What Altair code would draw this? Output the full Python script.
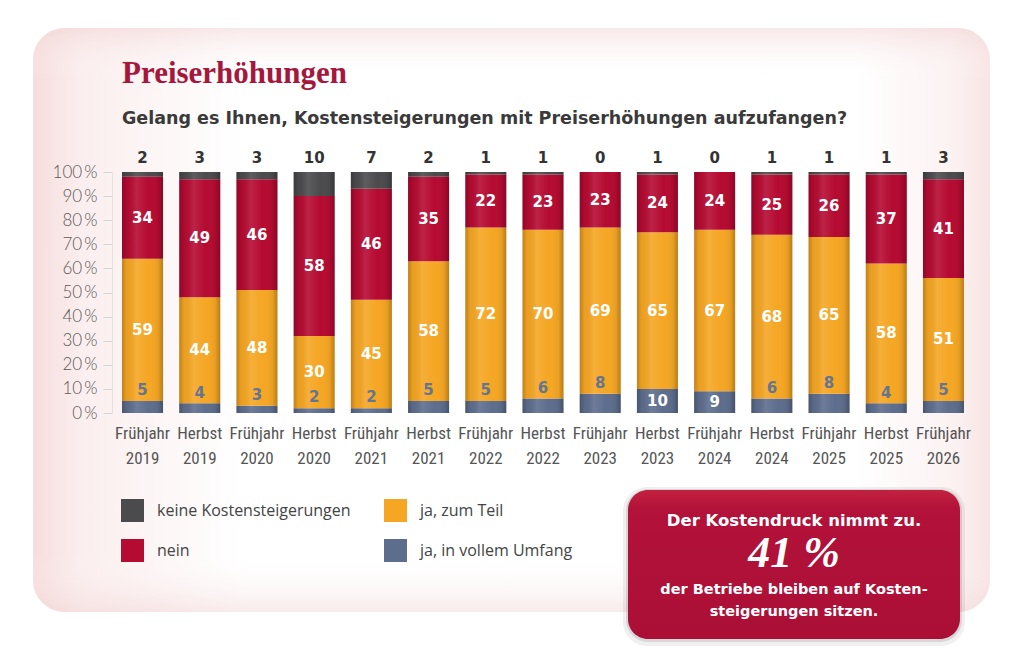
import altair as alt
import pandas as pd

# ---------------- data ----------------
periods = ["Frühjahr 2019", "Herbst 2019", "Frühjahr 2020", "Herbst 2020", "Frühjahr 2021",
           "Herbst 2021", "Frühjahr 2022", "Herbst 2022", "Frühjahr 2023", "Herbst 2023",
           "Frühjahr 2024", "Herbst 2024", "Frühjahr 2025", "Herbst 2025", "Frühjahr 2026"]
keine = [2, 3, 3, 10, 7, 2, 1, 1, 0, 1, 0, 1, 1, 1, 3]
nein = [34, 49, 46, 58, 46, 35, 22, 23, 23, 24, 24, 25, 26, 37, 41]
teil = [59, 44, 48, 30, 45, 58, 72, 70, 69, 65, 67, 68, 65, 58, 51]
voll = [5, 4, 3, 2, 2, 5, 5, 6, 8, 10, 9, 6, 8, 4, 5]

cat_keine = "keine Kostensteigerungen"
cat_teil = "ja, zum Teil"
cat_nein = "nein"
cat_voll = "ja, in vollem Umfang"
legend_order = [cat_keine, cat_nein, cat_teil, cat_voll]
legend_colors = ["#4b4b4d", "#b50a31", "#f5a623", "#5d6d8d"]
stack_order = [(cat_voll, voll), (cat_teil, teil), (cat_nein, nein), (cat_keine, keine)]

# ---------------- tables ----------------
seg_rows = []
for i, p in enumerate(periods):
    base = 0
    for cat, vals in stack_order:
        v = vals[i]
        seg_rows.append({"period": p, "cat": cat, "y0": base, "y1": base + v, "v": v})
        base += v
seg = pd.DataFrame(seg_rows)
seg["mid"] = (seg["y0"] + seg["y1"]) / 2

tot = seg.groupby("period", as_index=False)["y1"].max()

lab_nein = seg[seg["cat"] == cat_nein].copy()
lab_teil = seg[seg["cat"] == cat_teil].copy()
lab_voll = seg[seg["cat"] == cat_voll].copy()
lab_voll["ly"] = [m if v >= 9 else v + 4.5 for m, v in zip(lab_voll["mid"], lab_voll["v"])]
lab_voll_in = lab_voll[lab_voll["v"] >= 9]
lab_voll_out = lab_voll[lab_voll["v"] < 9]
lab_keine = seg[seg["cat"] == cat_keine].copy()
lab_keine["top"] = 100

one = pd.DataFrame({"a": [0]})

# ---------------- encodings ----------------
BOLD = "DejaVu Sans"
x_enc = alt.X(
    "period:N", sort=periods,
    scale=alt.Scale(paddingInner=0.283, paddingOuter=0.175),
    axis=alt.Axis(title=None, labelAngle=0, domain=False, ticks=False, zindex=5,
                  labelExpr="split(datum.label, ' ')", labelLineHeight=25,
                  labelPadding=12, labelFont="Liberation Sans Narrow, Roboto Condensed, DejaVu Sans Condensed, sans-serif",
                  labelFontSize=17, labelColor="#555555", labelOverlap=False),
)
y_scale = alt.Scale(domain=[0, 100], nice=False)
y_axis = alt.Axis(title=None, values=list(range(0, 101, 10)), labelExpr="datum.value + '\u2009%'",
                  grid=False, domainColor="#e2e2e2", tickColor="#d6d6d6", tickSize=9, zindex=5,
                  labelPadding=6, labelFont="Lato", labelFontWeight=300, labelFontSize=17,
                  labelColor="#5a5a5a")


def yq(field):
    return alt.Y(f"{field}:Q", scale=y_scale, axis=y_axis)


# ---------------- decorative panel ----------------
panel_grad = alt.LinearGradient(
    gradient="linear", x1=0, y1=0, x2=1, y2=0,
    stops=[alt.GradientStop(color="#f6dddd", offset=0),
           alt.GradientStop(color="#fbeeee", offset=0.05),
           alt.GradientStop(color="#ffffff", offset=0.22),
           alt.GradientStop(color="#ffffff", offset=0.86),
           alt.GradientStop(color="#fcf2f2", offset=0.96),
           alt.GradientStop(color="#f8e4e4", offset=1)])
panel_vgrad = alt.LinearGradient(
    gradient="linear", x1=0, y1=0, x2=0, y2=1,
    stops=[alt.GradientStop(color="rgba(240,205,205,0.45)", offset=0),
           alt.GradientStop(color="rgba(255,255,255,0)", offset=0.09),
           alt.GradientStop(color="rgba(255,255,255,0)", offset=0.9),
           alt.GradientStop(color="rgba(240,205,205,0.4)", offset=1)])

panel = alt.Chart(one).mark_rect(fill=panel_grad, cornerRadius=32).encode(
    x=alt.value(-79), x2=alt.value(878), y=alt.value(-144), y2=alt.value(440))
panel2 = alt.Chart(one).mark_rect(fill=panel_vgrad, cornerRadius=32).encode(
    x=alt.value(-79), x2=alt.value(878), y=alt.value(-144), y2=alt.value(440))

# ---------------- bars ----------------
bars = alt.Chart(seg).mark_bar().encode(
    x=x_enc,
    y=yq("y1"), y2="y0",
    color=alt.Color("cat:N", scale=alt.Scale(domain=legend_order, range=legend_colors),
                    legend=alt.Legend(title=None, orient="none", legendX=9, legendY=327,
                                      columns=2, symbolType="square", symbolSize=529,
                                      symbolStrokeWidth=0, symbolOpacity=1,
                                      labelFont="Open Sans", labelFontSize=16,
                                      labelColor="#444444", labelOffset=13, labelLimit=300,
                                      rowPadding=17, columnPadding=33, padding=0, zindex=5)),
)

shade_grad = alt.LinearGradient(
    gradient="linear", x1=0, y1=0, x2=1, y2=0,
    stops=[alt.GradientStop(color="rgba(0,0,0,0.22)", offset=0),
           alt.GradientStop(color="rgba(0,0,0,0.04)", offset=0.12),
           alt.GradientStop(color="rgba(255,255,255,0.10)", offset=0.35),
           alt.GradientStop(color="rgba(255,255,255,0.0)", offset=0.65),
           alt.GradientStop(color="rgba(0,0,0,0.05)", offset=0.88),
           alt.GradientStop(color="rgba(0,0,0,0.25)", offset=1)])
shade = alt.Chart(tot).mark_bar(fill=shade_grad).encode(
    x=x_enc, y=yq("y1"), y2=alt.datum(0))

# ---------------- labels ----------------
lbl_kw = dict(font=BOLD, fontWeight="bold", fontSize=15, baseline="middle", align="center")
t_nein = alt.Chart(lab_nein).mark_text(color="#ffffff", **lbl_kw).encode(
    x=x_enc, y=yq("mid"), text="v:Q")
t_teil = alt.Chart(lab_teil).mark_text(color="#ffffff", **lbl_kw).encode(
    x=x_enc, y=yq("mid"), text="v:Q")
t_voll_in = alt.Chart(lab_voll_in).mark_text(color="#ffffff", **lbl_kw).encode(
    x=x_enc, y=yq("ly"), text="v:Q")
t_voll_out = alt.Chart(lab_voll_out).mark_text(color="#66758f", **lbl_kw).encode(
    x=x_enc, y=yq("ly"), text="v:Q")
t_keine = alt.Chart(lab_keine).mark_text(color="#333333", dy=-14, **lbl_kw).encode(
    x=x_enc, y=yq("top"), text="v:Q")

# ---------------- callout ----------------
cx0, cx1, cy0, cy1 = 516, 848, 318, 467
shadow1 = alt.Chart(one).mark_rect(fill="#000000", opacity=0.06, cornerRadius=24).encode(
    x=alt.value(cx0 - 5), x2=alt.value(cx1 + 5), y=alt.value(cy0 - 3), y2=alt.value(cy1 + 7))
shadow2 = alt.Chart(one).mark_rect(fill="#000000", opacity=0.10, cornerRadius=22).encode(
    x=alt.value(cx0 - 2), x2=alt.value(cx1 + 2), y=alt.value(cy0 - 1), y2=alt.value(cy1 + 3))
box_grad = alt.LinearGradient(
    gradient="linear", x1=0, y1=0, x2=0, y2=1,
    stops=[alt.GradientStop(color="#c2223f", offset=0),
           alt.GradientStop(color="#b3123a", offset=0.12),
           alt.GradientStop(color="#ab0f36", offset=1)])
box = alt.Chart(one).mark_rect(fill=box_grad, cornerRadius=20).encode(
    x=alt.value(cx0), x2=alt.value(cx1), y=alt.value(cy0), y2=alt.value(cy1))

ccx = (cx0 + cx1) / 2


def ctext(txt, y, **kw):
    return alt.Chart(one).mark_text(align="center", baseline="middle", color="#ffffff", **kw).encode(
        x=alt.value(ccx), y=alt.value(y), text=alt.value(txt))


c1 = ctext("Der Kostendruck nimmt zu.", 349, font=BOLD, fontWeight="bold", fontSize=16.5)
c2 = ctext("41 %", 382, font="Liberation Serif", fontStyle="italic", fontWeight="bold", fontSize=44)
c3 = ctext("der Betriebe bleiben auf Kosten-", 418, font=BOLD, fontWeight="bold", fontSize=14.5)
c4 = ctext("steigerungen sitzen.", 440, font=BOLD, fontWeight="bold", fontSize=14.5)

# ---------------- titles ----------------
title = alt.Chart(one).mark_text(align="left", baseline="alphabetic", font="Liberation Serif",
                                 fontWeight="bold", fontSize=31, color="#a5173c").encode(
    x=alt.value(10), y=alt.value(-89), text=alt.value("Preiserhöhungen"))
subtitle = alt.Chart(one).mark_text(align="left", baseline="alphabetic", font=BOLD,
                                    fontWeight="bold", fontSize=17.5, color="#3a3a3a").encode(
    x=alt.value(10), y=alt.value(-48),
    text=alt.value("Gelang es Ihnen, Kostensteigerungen mit Preiserhöhungen aufzufangen?"))

chart = alt.layer(
    panel, panel2, bars, shade, t_nein, t_teil, t_voll_in, t_voll_out, t_keine,
    shadow1, shadow2, box, c1, c2, c3, c4, title, subtitle,
).properties(
    width=862, height=241,
    autosize=alt.AutoSizeParams(type="none"),
    padding={"left": 112, "top": 172, "right": 50, "bottom": 255},
    background="#ffffff",
).configure_view(stroke=None)

chart.save("out.html", embed_options={"renderer": "svg", "actions": False})
